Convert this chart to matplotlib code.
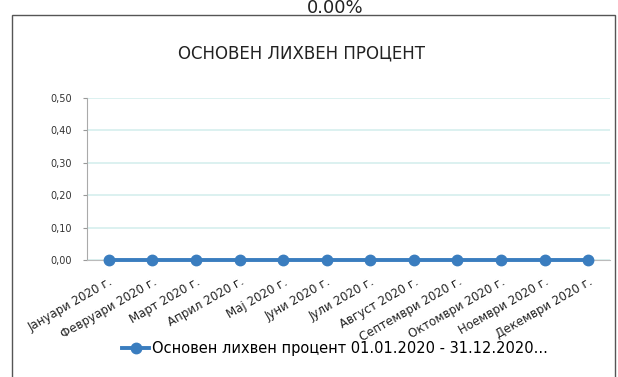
"""Monthly base interest rate line chart for 2020."""

import matplotlib
matplotlib.use("Agg")
import matplotlib.pyplot as plt
from matplotlib.patches import Rectangle

months = ["Јануари 2020 г.", "Февруари 2020 г.", "Март 2020 г.", "Април 2020 г.",
          "Мај 2020 г.", "Јуни 2020 г.", "Јули 2020 г.", "Август 2020 г.",
          "Септември 2020 г.", "Октомври 2020 г.", "Ноември 2020 г.", "Декември 2020 г."]
rate = [0.00, 0.00, 0.00, 0.00, 0.00, 0.00, 0.00, 0.00, 0.00, 0.00, 0.00, 0.00]
y_ticks = [0.0, 0.1, 0.2, 0.3, 0.4, 0.5]
series_name = "Основен лихвен процент 01.01.2020 - 31.12.2020..."

plt.rcParams["font.family"] = ["DejaVu Sans"]

W, H = 618, 377
fig = plt.figure(figsize=(W / 100, H / 100), dpi=100)
fig.patch.set_facecolor("white")

# chart frame
fig.patches.append(Rectangle((12 / W, -0.05), 603 / W, (H - 15) / H + 0.05,
                             transform=fig.transFigure, fill=False,
                             edgecolor="#555555", linewidth=1.0))
fig.text(335 / W, 1 - 13 / H, "0.00%", ha="center", va="baseline", fontsize=13, color="#222222")

ax = fig.add_axes([87 / W, 1 - 260 / H, (610 - 87) / W, (260 - 98) / H])
x = list(range(len(months)))
ax.plot(x, rate, "o-", color="#3a7dbf", linewidth=2.8, markersize=7.5,
        label=series_name, zorder=3, clip_on=False)

ax.set_xlim(-0.5, len(months) - 0.5)
ax.set_ylim(0, 0.5)
ax.set_yticks(y_ticks)
ax.set_yticklabels([f"{v:.2f}".replace(".", ",") for v in y_ticks], fontsize=7, color="#333333")
ax.set_xticks(x)
ax.set_xticklabels(months, rotation=30, ha="right", rotation_mode="anchor",
                   fontsize=8.5, color="#222222")
ax.tick_params(axis="x", length=0, pad=11)
ax.tick_params(axis="y", length=3, color="#999999", pad=8)

ax.grid(axis="y", color="#d6efee", linewidth=1.2)
ax.set_axisbelow(True)
for side in ("top", "right"):
    ax.spines[side].set_visible(False)
ax.spines["left"].set_color("#aaaaaa")
ax.spines["bottom"].set_color("#bbbbbb")

fig.text(302 / W, 1 - 53 / H, "ОСНОВЕН ЛИХВЕН ПРОЦЕНТ", ha="center", va="center",
         fontsize=12, color="#222222")

fig.legend(loc="center", bbox_to_anchor=(335 / W, 1 - 349 / H), frameon=False,
           fontsize=10.5, handlelength=1.8, handletextpad=0.2)

fig.savefig("out.png", dpi=100)
